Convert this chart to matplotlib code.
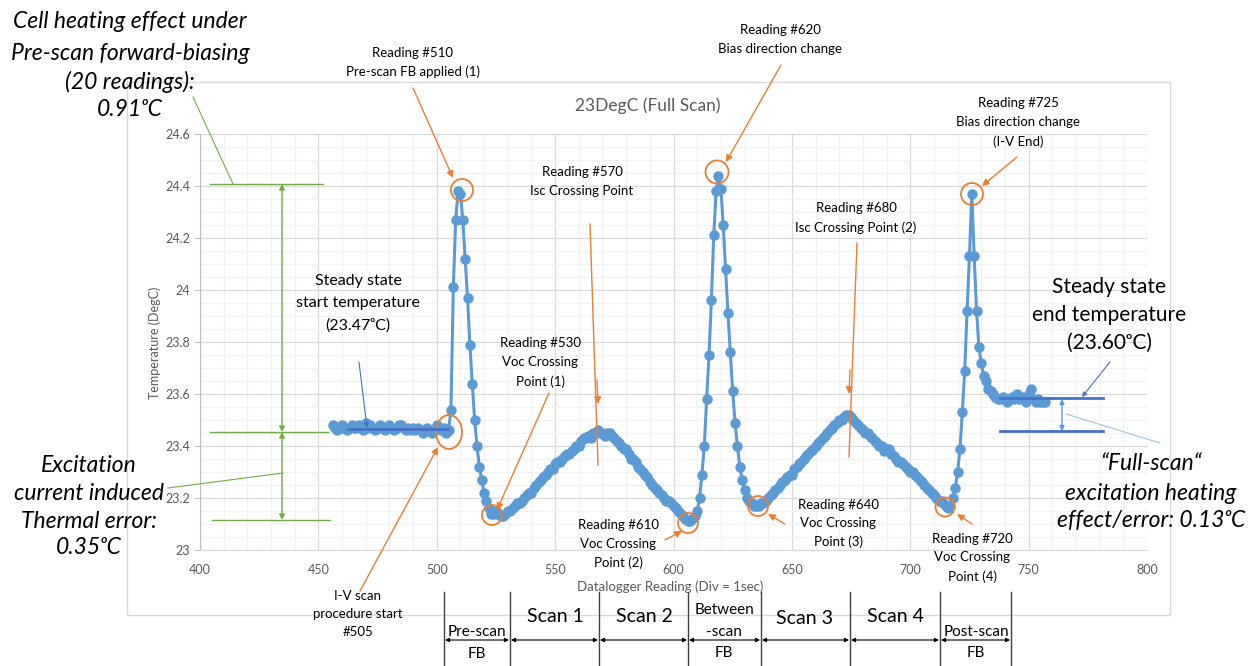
import numpy as np
import matplotlib
matplotlib.use("Agg")
import matplotlib.pyplot as plt
from matplotlib.patches import Circle, Ellipse, Rectangle
from matplotlib.ticker import MultipleLocator, FuncFormatter

plt.rcParams['font.family'] = ['Lato', 'DejaVu Sans']

# temperature readings (DegC), one per datalogger reading, starting at #456
first_reading = 456
temps = [
    23.48, 23.47, 23.46, 23.47, 23.48, 23.47, 23.46, 23.47, 23.48, 23.47,
    23.47, 23.48, 23.47, 23.46, 23.49, 23.47, 23.48, 23.47, 23.46, 23.47,
    23.48, 23.47, 23.46, 23.47, 23.48, 23.47, 23.46, 23.47, 23.48, 23.48,
    23.47, 23.46, 23.47, 23.46, 23.47, 23.46, 23.47, 23.46, 23.45, 23.46,
    23.47, 23.46, 23.45, 23.46, 23.48, 23.47, 23.46, 23.47, 23.45, 23.46,
    # pre-scan forward bias spike
    23.54, 24.01, 24.27, 24.38, 24.37, 24.27, 24.12, 23.97, 23.79, 23.64,
    23.50, 23.40, 23.32, 23.27, 23.22, 23.19, 23.16, 23.14, 23.14, 23.15,
    23.14, 23.13, 23.13, 23.14, 23.15, 23.15, 23.16, 23.17, 23.18, 23.18,
    # scan 1 / scan 2
    23.19, 23.20, 23.21, 23.22, 23.22, 23.24, 23.25, 23.26, 23.27, 23.28,
    23.29, 23.30, 23.31, 23.31, 23.33, 23.34, 23.34, 23.35, 23.36, 23.37,
    23.37, 23.38, 23.39, 23.40, 23.40, 23.42, 23.43, 23.43, 23.44, 23.43,
    23.45, 23.45, 23.46, 23.45, 23.45, 23.44, 23.45, 23.45, 23.44, 23.43,
    23.42, 23.41, 23.40, 23.39, 23.39, 23.37, 23.35, 23.35, 23.34, 23.32,
    23.31, 23.30, 23.29, 23.28, 23.26, 23.25, 23.24, 23.23, 23.22, 23.21,
    23.20, 23.19, 23.19, 23.18, 23.17, 23.16, 23.15, 23.14, 23.13, 23.12,
    # between-scan spike
    23.11, 23.11, 23.12, 23.13, 23.15, 23.20, 23.29, 23.40, 23.58, 23.75,
    23.96, 24.21, 24.38, 24.44, 24.39, 24.25, 24.08, 23.91, 23.76, 23.61,
    23.49, 23.40, 23.32, 23.27, 23.23, 23.20, 23.19, 23.18, 23.17, 23.17,
    # scan 3 / scan 4
    23.17, 23.18, 23.18, 23.19, 23.20, 23.21, 23.22, 23.23, 23.24, 23.25,
    23.26, 23.27, 23.28, 23.29, 23.29, 23.31, 23.32, 23.33, 23.34, 23.35,
    23.36, 23.37, 23.38, 23.39, 23.40, 23.41, 23.42, 23.43, 23.44, 23.45,
    23.46, 23.47, 23.48, 23.49, 23.50, 23.50, 23.51, 23.52, 23.52, 23.51,
    23.50, 23.49, 23.48, 23.47, 23.46, 23.45, 23.45, 23.44, 23.43, 23.42,
    23.41, 23.40, 23.40, 23.38, 23.39, 23.39, 23.37, 23.36, 23.35, 23.34,
    23.34, 23.33, 23.32, 23.31, 23.30, 23.30, 23.29, 23.28, 23.27, 23.26,
    23.25, 23.24, 23.23, 23.22, 23.21, 23.20, 23.19, 23.19, 23.18, 23.17,
    # post-scan spike and settling
    23.16, 23.17, 23.20, 23.24, 23.30, 23.39, 23.53, 23.69, 23.92, 24.13,
    24.37, 24.13, 23.92, 23.78, 23.72, 23.67, 23.65, 23.62, 23.61, 23.60,
    23.59, 23.58, 23.58, 23.59, 23.58, 23.57, 23.58, 23.59, 23.58, 23.60,
    23.58, 23.59, 23.58, 23.57, 23.60, 23.62, 23.58, 23.57, 23.58, 23.57,
    23.57, 23.57,
]
readings = np.arange(first_reading, first_reading + len(temps))

x_range = (400, 800)
y_range = (23, 24.6)

W, H = 1252, 666
fig = plt.figure(figsize=(W / 100, H / 100), dpi=100)

# main chart area (pixel box 200..1147 x 134..550)
ax = fig.add_axes([200 / W, 1 - 550 / H, 947 / W, 416 / H])
ax.plot(readings, temps, '-o', color='#5B9BD5', lw=2.2, ms=6.5, zorder=3)
ax.set_xlim(*x_range)
ax.set_ylim(*y_range)
ax.xaxis.set_major_locator(MultipleLocator(50))
ax.xaxis.set_minor_locator(MultipleLocator(10))
ax.yaxis.set_major_locator(MultipleLocator(0.2))
ax.yaxis.set_minor_locator(MultipleLocator(0.05))
ax.yaxis.set_major_formatter(FuncFormatter(lambda v, p: f"{v:g}"))
ax.grid(which='major', color='#D9D9D9', lw=0.9)
ax.grid(which='minor', color='#F2F2F2', lw=0.8)
ax.set_axisbelow(True)
for s in ['top', 'right']:
    ax.spines[s].set_visible(False)
ax.spines['left'].set_color('#BFBFBF')
ax.spines['bottom'].set_color('#D9D9D9')
ax.tick_params(axis='x', which='both', length=0, pad=10, labelsize=9, labelcolor='#595959')
ax.tick_params(axis='y', which='major', length=4, color='#BFBFBF', pad=3, labelsize=9, labelcolor='#595959')
ax.tick_params(axis='y', which='minor', length=0)

# overlay in pixel coordinates for the annotations
ov = fig.add_axes([0, 0, 1, 1], zorder=5)
ov.set_xlim(0, W)
ov.set_ylim(H, 0)
ov.axis('off')
ov.patch.set_alpha(0)

ov.add_patch(Rectangle((127, 82), 1043, 533, fill=False, ec='#D9D9D9', lw=1))

ORANGE = '#ED7D31'
GREEN = '#70AD47'
BLUE = '#4472C4'


def block(x, ys, lines, **kw):
    for y, s in zip(ys, lines):
        ov.text(x, y, s, ha='center', va='center', **kw)


def arrow(p0, p1, color, style='-|>', lw=1, ms=10):
    ov.annotate('', xy=p1, xytext=p0,
                arrowprops=dict(arrowstyle=style, color=color, lw=lw,
                                mutation_scale=ms, shrinkA=0, shrinkB=0))


def line(p0, p1, color, lw=1):
    ov.plot([p0[0], p1[0]], [p0[1], p1[1]], color=color, lw=lw)


# titles / axis labels
ov.text(648, 106, '23DegC (Full Scan)', ha='center', va='center', fontsize=12.5, color='#595959')
ov.text(670, 587, 'Datalogger Reading (Div = 1sec)', ha='center', va='center', fontsize=9.5, color='#595959')
ov.text(155, 343, 'Temperature (DegC)', ha='center', va='center', rotation=90, fontsize=9, color='#595959')

# big italic notes
ital = dict(fontsize=16.5, style='italic')
block(130, [21, 53, 82, 109], ['Cell heating effect under', 'Pre-scan forward-biasing',
                               '(20 readings):', '0.91ᵒC'], **ital)
block(89, [465, 493, 521, 548], ['Excitation', 'current induced', 'Thermal error:', '0.35ᵒC'], **ital)
block(1151, [463, 493, 521], ['\u201cFull-scan\u201c', 'excitation heating', 'effect/error: 0.13ᵒC'], **ital)
block(1109, [287, 315, 343], ['Steady state', 'end temperature', '(23.60ᵒC)'], fontsize=15)
block(358, [281, 303, 326], ['Steady state', 'start temperature', '(23.47ᵒC)'], fontsize=11.5)

# reading labels
small = dict(fontsize=9.5)
block(413, [53, 72], ['Reading #510', 'Pre-scan FB applied (1)'], **small)
block(780, [30, 49], ['Reading #620', 'Bias direction change'], **small)
block(582, [172, 191], ['Reading #570', 'Isc Crossing Point'], **small)
block(856, [208, 228], ['Reading #680', 'Isc Crossing Point (2)'], **small)
block(1018, [103, 122, 142], ['Reading #725', 'Bias direction change', '(I-V End)'], **small)
block(540, [343, 362, 382], ['Reading #530', 'Voc Crossing', 'Point (1)'], **small)
block(618, [525, 544, 563], ['Reading #610', 'Voc Crossing', 'Point (2)'], **small)
block(838, [505, 523, 542], ['Reading #640', 'Voc Crossing', 'Point (3)'], **small)
block(972, [539, 557, 577], ['Reading #720', 'Voc Crossing', 'Point (4)'], **small)
block(358, [596, 614, 632], ['I-V scan', 'procedure start', '#505'], **small)

# orange pointers and circles
arrow((413, 88), (453, 178), ORANGE)
arrow((781, 65), (726, 162), ORANGE)
arrow((1017, 157), (982, 186), ORANGE)
arrow((549, 393), (497, 510), ORANGE)
arrow((360, 591), (438, 447), ORANGE)
arrow((665, 540), (682, 531), ORANGE)
arrow((785, 524), (768, 514), ORANGE)
arrow((972, 524), (957, 514), ORANGE)
line((590, 224), (598, 465), ORANGE)
arrow((597, 380), (598, 404), ORANGE)
line((857, 243), (849, 457), ORANGE)
arrow((850, 370), (849, 394), ORANGE)
circles = [(462, 190, 11), (717, 172, 11.5), (972, 194, 11), (492, 515, 10),
           (688, 523, 10), (758, 506, 10), (945, 507, 9.5)]
for cx, cy, r in circles:
    ov.add_patch(Circle((cx, cy), r, fill=False, ec=ORANGE, lw=1.3))
ov.add_patch(Ellipse((449, 432), 26, 34, fill=False, ec=ORANGE, lw=1.3))

# green error bars on the left
line((210, 184), (323, 184), GREEN)
line((210, 432), (328, 432), GREEN)
line((212, 520), (330, 520), GREEN)
arrow((282, 432), (282, 184), GREEN, style='<|-|>', ms=8)
arrow((282, 520), (282, 432), GREEN, style='<|-|>', ms=8)
line((193, 97), (233, 184), GREEN, lw=0.8)
line((168, 488), (283, 473), GREEN, lw=0.8)

# blue steady-state marks
line((348, 429), (448, 429), BLUE, lw=2)
arrow((359, 362), (367, 428), BLUE, lw=0.8, ms=7)
line((1000, 398), (1103, 398), BLUE, lw=2)
line((1000, 431), (1103, 431), BLUE, lw=2)
arrow((1062, 431), (1062, 399), '#5B9BD5', style='<|-|>', lw=1, ms=7)
arrow((1110, 362), (1082, 397), BLUE, lw=0.8, ms=7)
line((1066, 414), (1160, 443), '#9DC3E6', lw=0.8)

# scan phases along the bottom
phase_edges = [444, 510, 599, 688, 761, 850, 940, 1011]
for xe in phase_edges:
    ov.plot([xe, xe], [592, 666], color='#404040', lw=1)
for a, b in zip(phase_edges[:-1], phase_edges[1:]):
    arrow((a + 1, 640), (b - 1, 640), 'black', style='<|-|>', lw=0.8, ms=6)
big = dict(fontsize=14)
mid = dict(fontsize=11)
block(477, [632, 654], ['Pre-scan', 'FB'], **mid)
block(555, [617], ['Scan 1'], **big)
block(644, [617], ['Scan 2'], **big)
block(724, [610, 632, 653], ['Between', '-scan', 'FB'], **mid)
block(805, [618], ['Scan 3'], **big)
block(895, [616], ['Scan 4'], **big)
block(976, [632, 653], ['Post-scan', 'FB'], **mid)

fig.savefig('out.png', dpi=100)
